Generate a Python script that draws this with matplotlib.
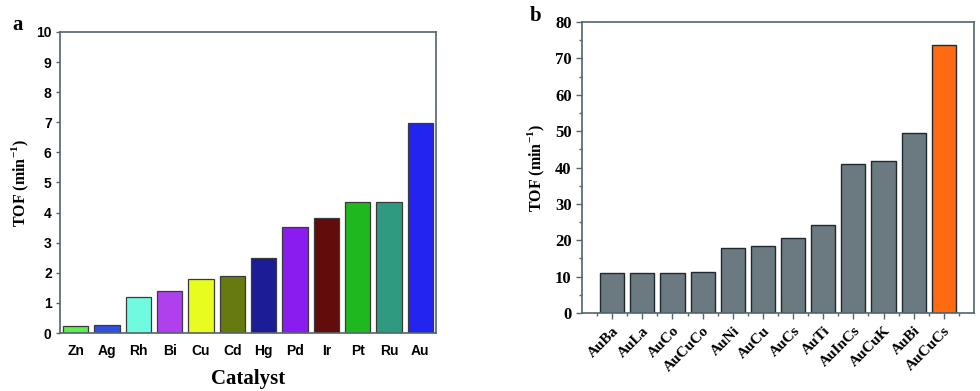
import numpy as np
import matplotlib.pyplot as plt
from matplotlib.ticker import MultipleLocator

plt.rcParams['mathtext.fontset'] = 'custom'
plt.rcParams['mathtext.rm'] = 'Liberation Serif'
plt.rcParams['mathtext.bf'] = 'Liberation Serif:bold'

# Panel a data
catalysts_a = ['Zn', 'Ag', 'Rh', 'Bi', 'Cu', 'Cd', 'Hg', 'Pd', 'Ir', 'Pt', 'Ru', 'Au']
tof_a = [0.22, 0.25, 1.2, 1.4, 1.8, 1.88, 2.5, 3.52, 3.83, 4.35, 4.35, 6.97]
colors_a = ['#5cf04a', '#3050e0', '#70fbe0', '#b040ee', '#e8fc20', '#667a10',
            '#1c1c96', '#8a1cf0', '#620c0c', '#1fb81f', '#2f9a80', '#2424f0']

# Panel b data
catalysts_b = ['AuBa', 'AuLa', 'AuCo', 'AuCuCo', 'AuNi', 'AuCu', 'AuCs', 'AuTi',
               'AuInCs', 'AuCuK', 'AuBi', 'AuCuCs']
tof_b = [11.0, 11.0, 11.0, 11.2, 18.0, 18.3, 20.7, 24.1, 41.1, 41.9, 49.5, 73.8]
colors_b = ['#6b7a80'] * 11 + ['#ff6a12']

spine_color = '#52666c'
serif = 'Liberation Serif'
sans = 'Liberation Sans'
ylab = 'TOF (min$^{\\mathbf{-1}}$)'

fig = plt.figure(figsize=(9.8, 3.91), dpi=100)

#Panel a
ax1 = fig.add_axes([0.0612, 0.1483, 0.3837, 0.770])
x_a = np.arange(len(catalysts_a))
ax1.bar(x_a, tof_a, width=0.8, color=colors_a, edgecolor='#3a3a3a', linewidth=0.9)
ax1.set_xlim(-0.5, 11.5)
ax1.set_ylim(0, 10)
ax1.yaxis.set_major_locator(MultipleLocator(1))
ax1.set_xticks(x_a)
ax1.set_xticklabels(catalysts_a, fontfamily=sans, fontweight='bold', fontsize=10)
ax1.tick_params(axis='x', length=0, pad=8)
ax1.tick_params(axis='y', direction='out', length=3, width=1, color=spine_color, pad=3)
for lab in ax1.get_yticklabels():
    lab.set_fontfamily(sans)
    lab.set_fontweight('bold')
    lab.set_fontsize(10)
for s in ax1.spines.values():
    s.set_color(spine_color)
    s.set_linewidth(1.2)
ax1.set_xlabel('Catalyst', fontfamily=serif, fontweight='bold', fontsize=15, labelpad=8)
ax1.set_ylabel(ylab, fontfamily=serif, fontweight='bold', fontsize=11.5, labelpad=4)
fig.text(0.018, 0.935, 'a', fontfamily=serif, fontweight='bold', fontsize=15, ha='center', va='center')

#Panel b
ax2 = fig.add_axes([0.5939, 0.1995, 0.400, 0.744])
x_b = np.arange(len(catalysts_b))
ax2.bar(x_b, tof_b, width=0.8, color=colors_b, edgecolor='#1f2a30', linewidth=1.0)
ax2.set_xlim(-1, 12)
ax2.set_ylim(0, 80)
ax2.yaxis.set_major_locator(MultipleLocator(10))
ax2.yaxis.set_minor_locator(MultipleLocator(5))
ax2.set_xticks(x_b)
ax2.set_xticks(np.append(x_b, 12) - 0.5, minor=True)
ax2.set_xticklabels(catalysts_b, rotation=45, ha='right', rotation_mode='anchor',
                    fontfamily=serif, fontweight='bold', fontsize=11)
ax2.tick_params(axis='both', which='major', direction='out', length=4, width=1, color=spine_color)
ax2.tick_params(axis='both', which='minor', direction='out', length=2, width=1, color=spine_color)
ax2.tick_params(axis='x', which='major', pad=4)
for lab in ax2.get_yticklabels():
    lab.set_fontfamily(serif)
    lab.set_fontweight('bold')
    lab.set_fontsize(12)
for s in ax2.spines.values():
    s.set_color(spine_color)
    s.set_linewidth(1.2)
ax2.set_ylabel(ylab, fontfamily=serif, fontweight='bold', fontsize=11.5, labelpad=6)
fig.text(0.546, 0.96, 'b', fontfamily=serif, fontweight='bold', fontsize=15, ha='center', va='center')

plt.savefig('out.png', dpi=100)
